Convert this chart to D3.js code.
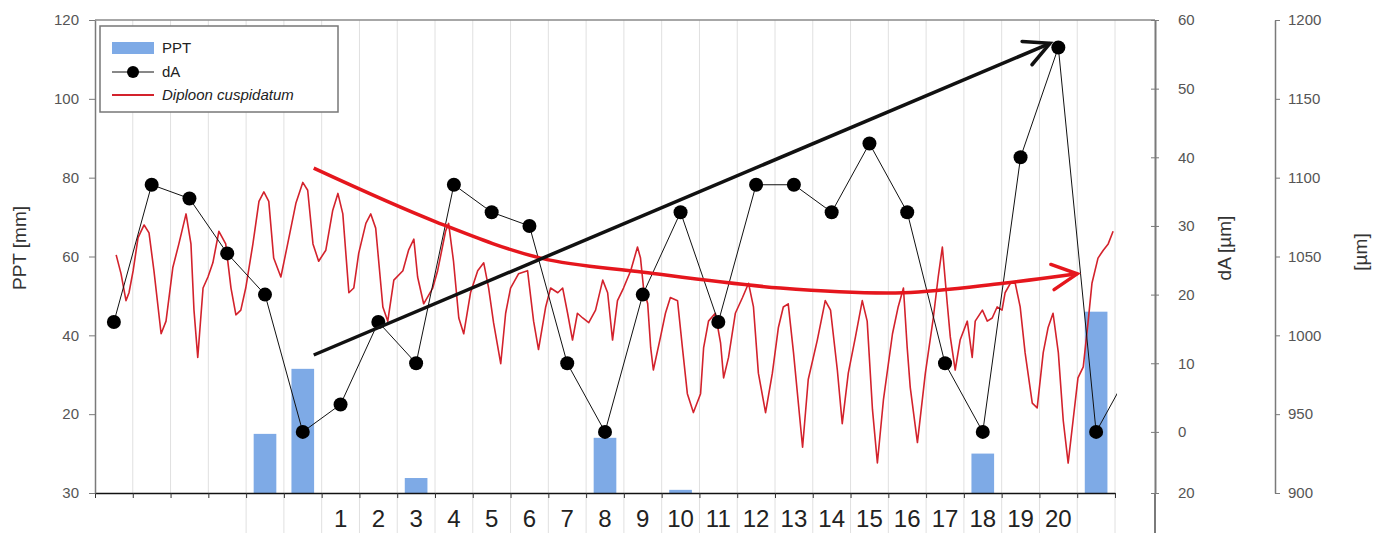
<!DOCTYPE html>
<html>
<head>
<meta charset="utf-8">
<script src="https://cdn.jsdelivr.net/npm/d3@7"></script>
<style>
  body { margin: 0; background: #fff; }
  svg { display: block; font-family: "Liberation Sans", Arial, sans-serif; }
</style>
</head>
<body>
<div id="chart"></div>
<script>
// days shown on the x axis (first six and the last one have no label)
var dayLabels = ["", "", "", "", "", "", "1", "2", "3", "4", "5", "6", "7", "8", "9", "10",
  "11", "12", "13", "14", "15", "16", "17", "18", "19", "20", ""];
// precipitation per day [mm]
var ppt = [0, 0, 0, 0, 15, 31.5, 0, 0, 3.8, 0, 0, 0, 0, 14, 0, 0.8, 0, 0, 0, 0, 0, 0, 0, 10, 0, 0, 46];
// daily amplitude dA [um] (the last point lies past the plot edge)
var dA = [16, 36, 34, 26, 20, 0, 4, 16, 10, 36, 32, 30, 10, 0, 20, 32, 16, 36, 36, 32, 42, 32, 10, 0, 40, 56, 0, 10];
// stem diameter of Diploon cuspidatum [um], time in days
var diploonT = [0.56, 0.69, 0.82, 0.9, 1.01, 1.14, 1.3, 1.43, 1.56, 1.75, 1.88, 2.06, 2.22, 2.41, 2.54, 2.62, 2.72, 2.86, 2.99,
  3.12, 3.28, 3.46, 3.6, 3.73, 3.86, 3.99, 4.18, 4.34, 4.47, 4.6, 4.73, 4.92, 5.1, 5.32, 5.5, 5.63, 5.77, 5.92, 6.11,
  6.29, 6.43, 6.56, 6.72, 6.85, 6.98, 7.17, 7.3, 7.43, 7.62, 7.75, 7.91, 8.15, 8.3, 8.44, 8.54, 8.7, 8.94,
  9.07, 9.28, 9.36, 9.49, 9.63, 9.76, 9.94, 10.13, 10.29, 10.42, 10.55, 10.74, 10.87, 11.0, 11.21, 11.45, 11.61, 11.74,
  11.93, 12.06, 12.25, 12.38, 12.51, 12.64, 12.77, 12.91, 13.07, 13.25, 13.44, 13.57, 13.7, 13.83, 13.99, 14.18, 14.36,
  14.44, 14.52, 14.63, 14.71, 14.78, 14.97, 15.1, 15.23, 15.42, 15.55, 15.68, 15.84, 16.03, 16.11, 16.24, 16.42, 16.56,
  16.64, 16.77, 16.95, 17.14, 17.3, 17.43, 17.56, 17.75, 17.93, 18.09,
  18.22, 18.35, 18.49, 18.73, 18.88, 19.12, 19.33, 19.47, 19.65, 19.78, 19.94, 20.13, 20.31, 20.44, 20.58, 20.71, 20.87,
  21.11, 21.26, 21.4, 21.5, 21.58, 21.77, 21.98, 22.19, 22.32, 22.43, 22.56, 22.64, 22.77, 22.9, 23.09, 23.22, 23.3,
  23.49, 23.62, 23.75, 23.88, 24.01, 24.09, 24.23, 24.36, 24.49, 24.62, 24.81, 24.94, 25.1, 25.23, 25.36, 25.5, 25.63,
  25.76, 25.89, 26.02, 26.16, 26.29, 26.39, 26.55, 26.69, 26.82, 26.95];
var diploonUm = [1051, 1039, 1022, 1027, 1041, 1062, 1070, 1065, 1041, 1001, 1009, 1043, 1058, 1077, 1058, 1016, 986, 1030, 1037,
  1046, 1066, 1058, 1030, 1013, 1016, 1030, 1058, 1085, 1091, 1085, 1049, 1037, 1058, 1084, 1097, 1092, 1058, 1047, 1054,
  1079, 1090, 1077, 1027, 1030, 1052, 1071, 1077, 1068, 1018, 1009, 1035, 1041, 1054, 1061, 1037, 1020, 1030,
  1041, 1066, 1071, 1047, 1011, 1001, 1027, 1041, 1046, 1030, 1008, 982, 1014, 1030, 1039, 1041, 1009, 991,
  1018, 1030, 1027, 1030, 1014, 997, 1014, 1011, 1008, 1016, 1035, 1027, 997, 1022, 1030, 1041, 1056,
  1049, 1030, 1020, 992, 978, 999, 1014, 1024, 1022, 992, 963, 951, 963, 992, 1009, 1014, 995,
  973, 986, 1014, 1024, 1033, 1018, 976, 951, 976, 1005,
  1018, 1020, 989, 929, 972, 997, 1022, 1016, 978, 944, 976, 999, 1022, 1009, 953, 919, 959,
  1001, 1018, 1030, 992, 967, 932, 976, 1011, 1037, 1056, 1020, 999, 978, 997, 1009, 986, 1009,
  1016, 1009, 1011, 1018, 1016, 1027, 1033, 1033, 1018, 989, 957, 954, 989, 1005, 1014, 989, 946,
  919, 946, 973, 980, 1009, 1033, 1049, 1054, 1058, 1066];
// tick values and their printed labels
var pptTicks = [0, 20, 40, 60, 80, 100, 120];
var pptTickLabels = ["30", "20", "40", "60", "80", "100", "120"];
var dATicks = [-8.9, 0, 10, 20, 30, 40, 50, 60];
var dATickLabels = ["20", "0", "10", "20", "30", "40", "50", "60"];
var umTicks = [900, 950, 1000, 1050, 1100, 1150, 1200];
// hand drawn trend arrows: black on the dA scale, red on the um scale
var dATrendT = [5.79, 25.28];
var dATrendV = [11.2, 56.6];
var umTrendT = [5.79, 9.02, 11.8, 14.52, 18.14, 21.4, 24.04, 26.0];
var umTrendV = [1106, 1072, 1049, 1040, 1030, 1027, 1033, 1039];

function init() {
  var width = 1388, height = 533;
  var left = 95, right = 1115, top = 20, bottom = 493;
  var axisA = 1155, axisUm = 1275;
  var font = "'Liberation Sans', Arial, sans-serif";

  var svg = d3.select("#chart").append("svg")
    .attr("width", width).attr("height", height);

  var n = dayLabels.length;
  var xT = d3.scaleLinear().domain([0, n]).range([left, right]);
  var xBand = d3.scaleBand().domain(d3.range(n)).range([left, right]);
  var yP = d3.scaleLinear().domain([0, 120]).range([bottom, top]);
  var yA = d3.scaleLinear().domain([-8.9, 60]).range([bottom, top]);
  var yUm = d3.scaleLinear().domain([900, 1200]).range([bottom, top]);

  svg.append("defs").append("clipPath").attr("id", "plotclip")
    .append("rect").attr("x", left).attr("y", 0).attr("width", right - left + 2).attr("height", height);

  // vertical grid lines at day boundaries (continue below the axis from day 4 on)
  svg.append("g").selectAll("line")
    .data(d3.range(1, n + 1))
    .enter().append("line")
    .attr("x1", function (k) { return xT(k); })
    .attr("x2", function (k) { return xT(k); })
    .attr("y1", top)
    .attr("y2", function (k) { return k >= 4 ? height : bottom; })
    .attr("stroke", "#e0e0e0").attr("stroke-width", 1);

  // frame top
  svg.append("line").attr("x1", left).attr("x2", axisA).attr("y1", top).attr("y2", top)
    .attr("stroke", "#8a8a8a").attr("stroke-width", 1.5);

  // PPT bars
  svg.append("g").selectAll("rect")
    .data(ppt)
    .enter().append("rect")
    .attr("x", function (d, i) { return xBand(i) + xBand.bandwidth() * 0.2; })
    .attr("width", xBand.bandwidth() * 0.6)
    .attr("y", function (d) { return yP(d); })
    .attr("height", function (d) { return yP(0) - yP(d); })
    .attr("fill", "#7eaae6");

  // Diploon cuspidatum line
  var umLine = d3.line()
    .x(function (d, i) { return xT(diploonT[i]); })
    .y(function (d) { return yUm(d); });
  svg.append("path").datum(diploonUm)
    .attr("d", umLine)
    .attr("fill", "none").attr("stroke", "#d3222c").attr("stroke-width", 1.6)
    .attr("stroke-linejoin", "round");

  // dA line and points
  var dAg = svg.append("g").attr("clip-path", "url(#plotclip)");
  dAg.append("path").datum(dA)
    .attr("d", d3.line()
      .x(function (d, i) { return xT(i + 0.5); })
      .y(function (d) { return yA(d); }))
    .attr("fill", "none").attr("stroke", "#111").attr("stroke-width", 1);
  dAg.selectAll("circle")
    .data(dA)
    .enter().append("circle")
    .attr("cx", function (d, i) { return xT(i + 0.5); })
    .attr("cy", function (d) { return yA(d); })
    .attr("r", 7).attr("fill", "#000");

  // arrows
  function arrowHead(g, p, q, color) {
    var ang = Math.atan2(p[1] - q[1], p[0] - q[0]);
    var len = 28, spread = 0.47;
    var a1 = [p[0] - len * Math.cos(ang - spread), p[1] - len * Math.sin(ang - spread)];
    var a2 = [p[0] - len * Math.cos(ang + spread), p[1] - len * Math.sin(ang + spread)];
    g.append("path")
      .attr("d", "M" + a1 + "L" + p + "L" + a2)
      .attr("fill", "none").attr("stroke", color).attr("stroke-width", 3.5)
      .attr("stroke-linecap", "round").attr("stroke-linejoin", "miter");
  }
  var arrows = svg.append("g");
  var redPts = umTrendV.map(function (v, i) { return [xT(umTrendT[i]), yUm(v)]; });
  arrows.append("path").datum(redPts)
    .attr("d", d3.line().curve(d3.curveCatmullRom))
    .attr("fill", "none").attr("stroke", "#e5161d").attr("stroke-width", 3.5);
  arrowHead(arrows, redPts[redPts.length - 1], redPts[redPts.length - 2], "#e5161d");

  var blackPts = dATrendV.map(function (v, i) { return [xT(dATrendT[i]), yA(v)]; });
  arrows.append("path").datum(blackPts)
    .attr("d", d3.line())
    .attr("fill", "none").attr("stroke", "#111").attr("stroke-width", 3.5);
  arrowHead(arrows, blackPts[1], blackPts[0], "#111");

  // x axis
  var xAxis = svg.append("g").attr("transform", "translate(0," + bottom + ")")
    .call(d3.axisBottom(xT).tickValues(d3.range(n + 1)).tickFormat("").tickSize(5).tickSizeOuter(0));
  xAxis.select(".domain").attr("stroke", "#111").attr("stroke-width", 1.5);
  xAxis.selectAll(".tick line").attr("stroke", "#333");

  svg.append("g").selectAll("text")
    .data(dayLabels)
    .enter().append("text")
    .attr("x", function (d, i) { return xBand(i) + xBand.bandwidth() / 2; })
    .attr("y", 527)
    .attr("text-anchor", "middle")
    .attr("font-size", 24).attr("fill", "#222")
    .text(function (d) { return d; });

  // left PPT axis
  var yAxisL = svg.append("g").attr("transform", "translate(" + left + ",0)")
    .call(d3.axisLeft(yP).tickValues(pptTicks)
      .tickFormat(function (d, i) { return pptTickLabels[i]; })
      .tickSize(6).tickSizeOuter(0).tickPadding(10));
  styleAxis(yAxisL);

  // dA axis, ticks on both sides, line runs to the bottom of the picture
  var yAxisA = svg.append("g").attr("transform", "translate(" + axisA + ",0)")
    .call(d3.axisRight(yA).tickValues(dATicks)
      .tickFormat(function (d, i) { return dATickLabels[i]; })
      .tickSize(4).tickSizeOuter(0).tickPadding(19));
  styleAxis(yAxisA);
  yAxisA.selectAll(".tick line").attr("x1", -4);
  yAxisA.append("line").attr("x1", 0).attr("x2", 0).attr("y1", bottom).attr("y2", height)
    .attr("stroke", "#7a7a7a").attr("stroke-width", 2);
  yAxisA.select(".domain").attr("stroke-width", 2);

  // um axis
  var yAxisU = svg.append("g").attr("transform", "translate(" + axisUm + ",0)")
    .call(d3.axisRight(yUm).tickValues(umTicks).tickFormat(d3.format("d"))
      .tickSize(5).tickSizeOuter(0).tickPadding(8));
  styleAxis(yAxisU);

  function styleAxis(g) {
    g.select(".domain").attr("stroke", "#7a7a7a").attr("stroke-width", 1.5);
    g.selectAll(".tick line").attr("stroke", "#7a7a7a");
    g.selectAll(".tick text").attr("font-size", 15).attr("fill", "#555").attr("font-family", font);
  }

  // axis titles
  svg.append("text").attr("transform", "translate(26,248) rotate(-90)")
    .attr("text-anchor", "middle").attr("font-size", 19).attr("fill", "#333").text("PPT [mm]");
  svg.append("text").attr("transform", "translate(1231,248) rotate(-90)")
    .attr("text-anchor", "middle").attr("font-size", 19).attr("fill", "#333").text("dA [µm]");
  svg.append("text").attr("transform", "translate(1367,252) rotate(-90)")
    .attr("text-anchor", "middle").attr("font-size", 19).attr("fill", "#333").text("[µm]");

  // legend
  var lg = svg.append("g").attr("transform", "translate(100,26)");
  lg.append("rect").attr("width", 238).attr("height", 86)
    .attr("fill", "#fff").attr("stroke", "#777").attr("stroke-width", 1.5);
  lg.append("rect").attr("x", 12).attr("y", 16).attr("width", 42).attr("height", 12).attr("fill", "#7eaae6");
  lg.append("line").attr("x1", 12).attr("x2", 54).attr("y1", 46).attr("y2", 46)
    .attr("stroke", "#111").attr("stroke-width", 1);
  lg.append("circle").attr("cx", 33).attr("cy", 46).attr("r", 6).attr("fill", "#000");
  lg.append("line").attr("x1", 12).attr("x2", 54).attr("y1", 69).attr("y2", 69)
    .attr("stroke", "#d3222c").attr("stroke-width", 2);
  var legendText = [["PPT", 27, "normal"], ["dA", 51, "normal"], ["Diploon cuspidatum", 74, "italic"]];
  lg.selectAll("text.leg")
    .data(legendText)
    .enter().append("text")
    .attr("x", 62).attr("y", function (d) { return d[1]; })
    .attr("font-size", 15).attr("fill", "#222")
    .attr("font-style", function (d) { return d[2]; })
    .text(function (d) { return d[0]; });
}

window.onload = init;
</script>
</body>
</html>
